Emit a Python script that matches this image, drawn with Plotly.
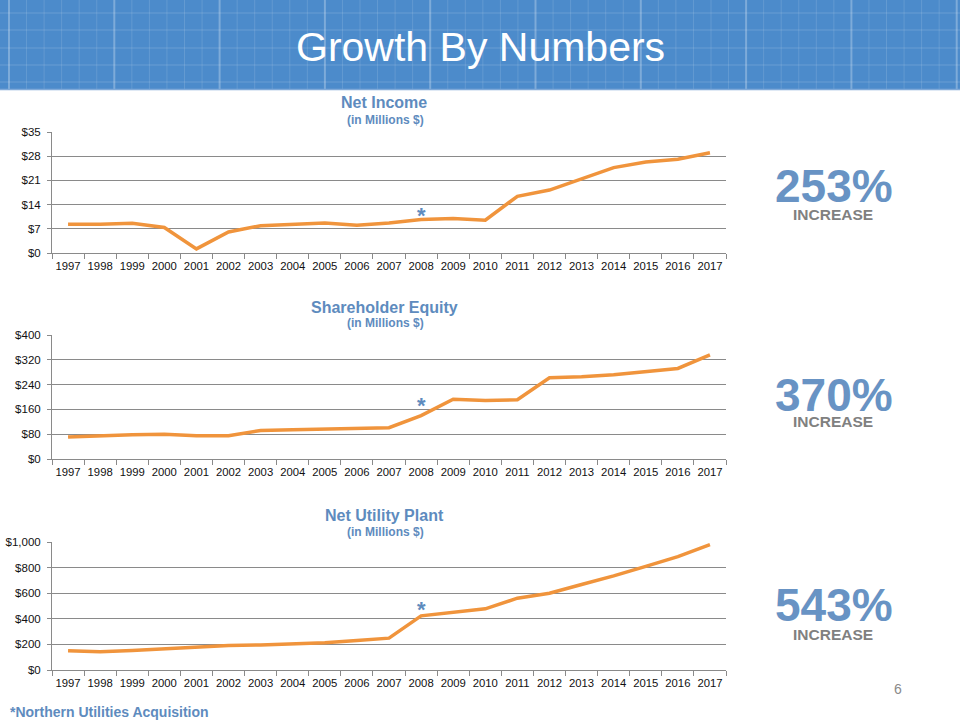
import plotly.graph_objects as go

years = [str(y) for y in range(1997, 2018)]
net_income = [8.3, 8.3, 8.6, 7.4, 1.2, 6.1, 7.9, 8.3, 8.7, 8.0, 8.7, 9.7, 10.0, 9.5,
              16.4, 18.2, 21.5, 24.7, 26.3, 27.1, 29.0]
equity = [71, 75, 78, 80, 75, 75, 92, 94, 96, 99, 101, 140, 193, 189, 191, 262, 265,
          272, 281, 292, 336]
utility_plant = [150, 143, 153, 166, 182, 192, 195, 205, 213, 231, 249, 423, 449, 478,
                 561, 600, 668, 735, 810, 886, 979]

titles = ["Net Income", "Shareholder Equity", "Net Utility Plant"]
subtitle = "(in Millions $)"
increases = ["253%", "370%", "543%"]
footnote = "*Northern Utilities Acquisition"
page_no = "6"
star_year = "2008"

W, H = 960, 720
def py(p):
    return 1 - p / H
def px(p):
    return p / W

ORANGE = "#F0943C"
BLUE_TXT = "#5E8BBE"
PCT_BLUE = "#6893C4"
GRID = "#8A8A8A"
FONT = "Liberation Sans, Arial, sans-serif"

fig = go.Figure()

panels = [
    dict(top=132, bottom=253, rng=[0, 35], dtick=7, fmt="", data=net_income,
         t1=103, t2=120, star=212, pct=186, inc=214),
    dict(top=335, bottom=459, rng=[0, 400], dtick=80, fmt="", data=equity,
         t1=307, t2=323, star=402, pct=395, inc=421),
    dict(top=542, bottom=670, rng=[0, 1000], dtick=200, fmt=",", data=utility_plant,
         t1=515, t2=532, star=606, pct=605, inc=634),
]

x_dom = [px(52), px(726)]
star_idx = years.index(star_year)
annotations = []
for i, p in enumerate(panels):
    n = "" if i == 0 else str(i + 1)
    fig.add_trace(go.Scatter(
        x=years, y=p["data"], mode="lines",
        line=dict(color=ORANGE, width=3.5),
        xaxis="x" + n, yaxis="y" + n, showlegend=False, hoverinfo="x+y"))
    fig.update_layout(**{
        "xaxis" + n: dict(domain=x_dom, anchor="y" + n, type="category",
                          range=[-0.5, len(years) - 0.5], autorange=False,
                          tickson="boundaries", ticks="outside", ticklen=5,
                          tickangle=0, automargin=False, ticklabelstandoff=2,
                          tickcolor=GRID, showline=True, linecolor=GRID, linewidth=1,
                          showgrid=False, zeroline=False,
                          tickfont=dict(family=FONT, size=11.3, color="#111")),
        "yaxis" + n: dict(domain=[py(p["bottom"]), py(p["top"])], anchor="x" + n,
                          range=p["rng"], autorange=False, dtick=p["dtick"],
                          tickprefix="$", automargin=False, ticklabelstandoff=4,
                          tickformat=p["fmt"], ticks="outside", ticklen=4,
                          tickcolor=GRID, showline=True, linecolor=GRID, linewidth=1,
                          showgrid=True, gridcolor=GRID, gridwidth=1, zeroline=False,
                          tickfont=dict(family=FONT, size=11.5, color="#111")),
    })
    annotations += [
        dict(text="<b>" + titles[i] + "</b>", x=px(384), y=py(p["t1"]), xref="paper",
             yref="paper", showarrow=False, xanchor="center", yanchor="middle",
             font=dict(family=FONT, size=16, color=BLUE_TXT)),
        dict(text="<b>" + subtitle + "</b>", x=px(385), y=py(p["t2"]), xref="paper",
             yref="paper", showarrow=False, xanchor="center", yanchor="middle",
             font=dict(family=FONT, size=12, color=BLUE_TXT)),
        dict(text="<b>*</b>", x=star_idx, y=py(p["star"] + 3), xref="x" + n,
             yref="paper", showarrow=False, xanchor="center", yanchor="middle",
             font=dict(family=FONT, size=22, color=BLUE_TXT)),
        dict(text="<b>" + increases[i] + "</b>", x=px(834), y=py(p["pct"]),
             xref="paper", yref="paper", showarrow=False, xanchor="center",
             yanchor="middle", font=dict(family=FONT, size=46, color=PCT_BLUE)),
        dict(text="<b>INCREASE</b>", x=px(833), y=py(p["inc"]), xref="paper",
             yref="paper", showarrow=False, xanchor="center", yanchor="middle",
             font=dict(family=FONT, size=15.5, color="#808080")),
    ]

# header
shapes = [dict(type="rect", xref="paper", yref="paper", x0=0, x1=1, y0=py(89), y1=1,
               fillcolor="#4C8BCB", line=dict(width=0), layer="below")]
k = 0
xv = 9.0
while xv < W:
    major = (k % 6 == 0)
    shapes.append(dict(type="line", xref="paper", yref="paper", x0=px(xv), x1=px(xv),
                       y0=py(89), y1=1, layer="below",
                       line=dict(color="rgba(255,255,255,%s)" % ("0.28" if major else "0.13"),
                                 width=2 if major else 1)))
    xv += 17.55
    k += 1
for yv in [13, 30, 48, 65, 82]:
    shapes.append(dict(type="line", xref="paper", yref="paper", x0=0, x1=1,
                       y0=py(yv), y1=py(yv), layer="below",
                       line=dict(color="rgba(255,255,255,0.16)", width=1)))
shapes.append(dict(type="line", xref="paper", yref="paper", x0=0, x1=1, y0=py(89.5),
                   y1=py(89.5), line=dict(color="#7FA9D8", width=1.5)))

annotations += [
    dict(text="Growth By Numbers", x=px(480), y=py(47), xref="paper", yref="paper",
         showarrow=False, xanchor="center", yanchor="middle",
         font=dict(family=FONT, size=41, color="white")),
    dict(text="<b>" + footnote + "</b>", x=px(8), y=py(712), xref="paper", yref="paper",
         showarrow=False, xanchor="left", yanchor="middle",
         font=dict(family=FONT, size=14, color=BLUE_TXT)),
    dict(text=page_no, x=px(898), y=py(689), xref="paper", yref="paper",
         showarrow=False, xanchor="center", yanchor="middle",
         font=dict(family=FONT, size=14, color="#8A8A8A")),
]

fig.update_layout(width=W, height=H, margin=dict(l=0, r=0, t=0, b=0, pad=0),
                  paper_bgcolor="white", plot_bgcolor="white",
                  shapes=shapes, annotations=annotations)

fig.write_html("out.html", config=dict(displayModeBar=False),
               post_script="document.body.style.margin='0';"
                           "document.body.style.overflow='hidden';")
